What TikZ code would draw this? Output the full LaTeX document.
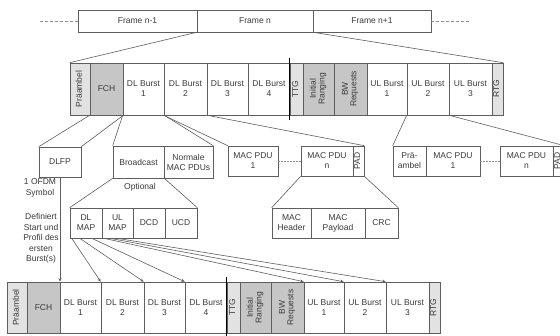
\documentclass[tikz,border=0pt]{standalone}
\usepackage{fontspec}
\setmainfont{Liberation Sans}
\usetikzlibrary{arrows.meta}
\definecolor{ln}{HTML}{5E5E5E}
\definecolor{txt}{HTML}{3A3A3A}
\definecolor{dk}{HTML}{C6C6C6}
\definecolor{lt}{HTML}{E2E2E2}
\newcommand\rot[1]{\rotatebox{90}{\renewcommand\arraystretch{0.85}\begin{tabular}{@{}c@{}}#1\end{tabular}}}
\newcommand\cb[7][]{\node[cellbox,#1,minimum width={((#4)-(#3))*1pt},minimum height={((#6)-(#5))*1pt}] (#2) at ({((#3)+(#4))/2},{((#5)+(#6))/2}) {#7};}
\newcommand\framerow[4]{%
 \cb[fill=lt]{#1pre}{70+#2}{90+#2}{#3}{#4}{\rot{Präambel}}
 \cb[fill=dk]{#1fch}{90+#2}{123+#2}{#3}{#4}{FCH}
 \cb{#1dlb1}{123+#2}{164+#2}{#3}{#4}{DL Burst\\1}
 \cb{#1dlb2}{164+#2}{207+#2}{#3}{#4}{DL Burst\\2}
 \cb{#1dlb3}{207+#2}{248+#2}{#3}{#4}{DL Burst\\3}
 \cb{#1dlb4}{248+#2}{290+#2}{#3}{#4}{DL Burst\\4}
 \cb[fill=lt]{#1ttg}{290+#2}{303+#2}{#3}{#4}{\rot{TTG}}
 \cb[fill=dk]{#1ir}{303+#2}{334+#2}{#3}{#4}{\rot{Initial\\Ranging}}
 \cb[fill=dk]{#1bw}{334+#2}{367+#2}{#3}{#4}{\rot{BW\\Requests}}
 \cb{#1ulb1}{367+#2}{407+#2}{#3}{#4}{UL Burst\\1}
 \cb{#1ulb2}{407+#2}{449+#2}{#3}{#4}{UL Burst\\2}
 \cb{#1ulb3}{449+#2}{492+#2}{#3}{#4}{UL Burst\\3}
 \cb[fill=lt]{#1rtg}{492+#2}{503+#2}{#3}{#4}{\rot{RTG}}
 \draw[thickbar] ([yshift=5pt]#1ttg.north west) -- ([yshift=-5pt]#1ttg.south west);
}
\begin{document}
\begin{tikzpicture}[x=1pt,y=-1pt,
  cellbox/.style={draw=ln, line width=0.6pt, inner sep=0pt, align=center, text=txt,
    font=\fontsize{8.5}{10}\selectfont},
  lbl/.style={align=center, text=txt, inner sep=0pt, font=\fontsize{8.5}{10.6}\selectfont},
  conn/.style={draw=ln, line width=0.6pt},
  arr/.style={conn, -{Stealth[length=3.5pt,width=3pt]}},
  thickbar/.style={draw=black, line width=1.3pt},
  dots/.style={draw=ln!70, line width=0.6pt, dash pattern=on 1.5pt off 1.5pt},
  dashln/.style={draw=ln!70, line width=0.6pt, dash pattern=on 3pt off 2pt}]
\useasboundingbox[fill=white] (0,0) rectangle (560,336);
% top frames
\cb{fa}{78}{197}{10}{32}{Frame n-1}
\cb{fb}{197}{313}{10}{32}{Frame n}
\cb{fc}{313}{431}{10}{32}{Frame n+1}
\coordinate (dl) at (40,21);
\coordinate (dr) at (470,21);
\draw[dashln] (dl) -- (fa.west);
\draw[dashln] (fc.east) -- (dr);
% frame rows
\framerow{t}{0}{63}{115}
\framerow{b}{(-63)}{282}{333}
% row 3
\cb{dlfp}{39}{81}{147}{177}{DLFP}
\cb{bc}{113}{164}{146}{178}{Broadcast}
\cb{nm}{164}{213}{146}{178}{Normale\\MAC PDUs}
\cb{mp1}{228}{278}{146}{176}{MAC PDU\\1}
\cb{mpn}{301}{353}{146}{176}{MAC PDU\\n}
\cb{pad}{353}{364}{146}{176}{\rot{PAD}}
\cb{upre}{393}{426}{146}{176}{Prä-\\ambel}
\cb{ump1}{426}{480}{146}{176}{MAC PDU\\1}
\cb{umpn}{500}{553}{146}{176}{MAC PDU\\n}
\cb{upad}{553}{564}{146}{176}{\rot{PAD}}
\draw[dots] (mp1.east) -- (mpn.west);
\draw[dots] (ump1.east) -- (umpn.west);
% row 4
\cb{dlmap}{70}{102}{208}{238}{DL\\MAP}
\cb{ulmap}{102}{133}{208}{238}{UL\\MAP}
\cb{dcd}{133}{165}{208}{238}{DCD}
\cb{ucd}{165}{197}{208}{238}{UCD}
\cb{mh}{272}{311}{208}{238}{MAC\\Header}
\cb{mpl}{311}{365}{208}{238}{MAC\\Payload}
\cb{crc}{365}{398}{208}{238}{CRC}
% labels
\node[lbl] (opt) at (140,187) {Optional};
\node[lbl] (ofdm) at (40,188) {1 OFDM\\Symbol};
\node[lbl] (def) at (41,238.5) {Definiert\\Start und\\Profil des\\ersten\\Burst(s)};
% expansion lines
\draw[conn] (fb.south west) -- (tpre.north west);
\draw[conn] (fb.south east) -- (trtg.north east);
\draw[conn] (tfch.south west) -- (dlfp.north west);
\draw[conn] (tfch.south east) -- (dlfp.north east);
\draw[conn] (tdlb1.south west) -- (bc.north west);
\draw[conn] (tdlb1.south east) -- (nm.north east);
\draw[conn] (tdlb2.south west) -- (mp1.north west);
\draw[conn] (tdlb2.south east) -- (pad.north east);
\draw[conn] (tulb2.south west) -- (upre.north west);
\draw[conn] (tulb2.south east) -- (upad.north east);
\draw[conn] (bc.south west) -- (dlmap.north west);
\draw[conn] (bc.south east) -- (ucd.north east);
\draw[conn] (mpn.south west) -- (mh.north west);
\draw[conn] (pad.south east) -- (crc.north east);
% map arrows
\draw[arr] (dlfp.south) -- (dlfp.south |- bdlb1.north);
\draw[arr] ([xshift=2pt]dlmap.south west) -- (bdlb2.north west);
\draw[arr] ([xshift=10pt]dlmap.south west) -- (bdlb3.north west);
\draw[arr] ([xshift=22pt]dlmap.south west) -- (bdlb4.north west);
\draw[arr] ([xshift=2pt]ulmap.south west) -- (bulb1.north west);
\draw[arr] ([xshift=8pt]ulmap.south west) -- (bulb2.north west);
\draw[arr] ([xshift=15pt]ulmap.south west) -- (bulb3.north west);
\end{tikzpicture}
\end{document}
